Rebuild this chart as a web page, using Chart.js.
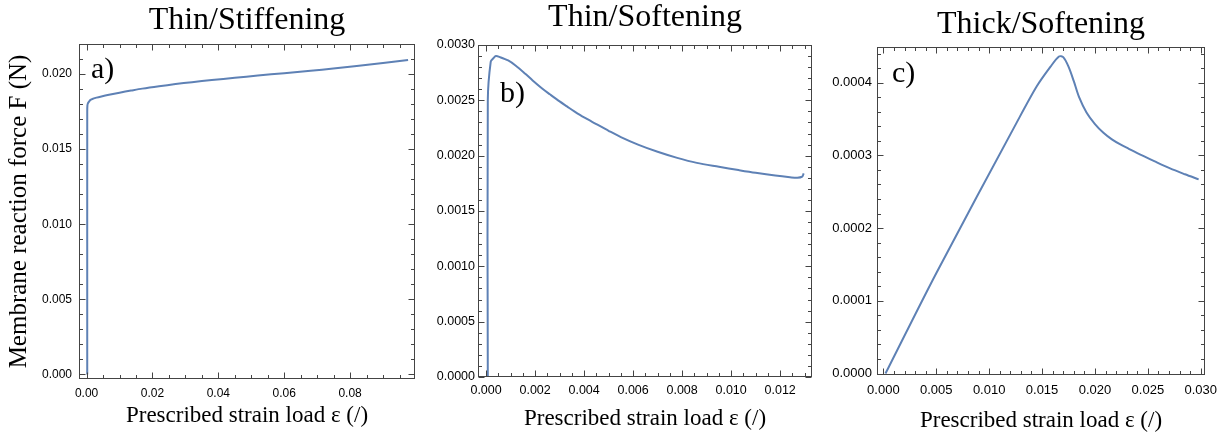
<!DOCTYPE html>
<html>
<head>
<meta charset="utf-8">
<script src="https://cdn.jsdelivr.net/npm/chart.js@4.4.1/dist/chart.umd.min.js"></script>
<style>
  body { margin: 0; background: #fff; width: 1228px; height: 434px; overflow: hidden; position: relative; }
  canvas { position: absolute; top: 0; }
</style>
</head>
<body>
<canvas id="chartA" width="420" height="434" style="left:0px"></canvas>
<canvas id="chartB" width="400" height="434" style="left:420px"></canvas>
<canvas id="chartC" width="408" height="434" style="left:820px"></canvas>
<script>
// --- DATA ---
// a) thin / stiffening
const strainA = [0.0002, 0.0002, 0.00025, 0.0004, 0.0008, 0.0012, 0.002, 0.003, 0.0045, 0.0068, 0.010, 0.0135, 0.0169, 0.022, 0.027, 0.032, 0.038, 0.045, 0.052, 0.060, 0.068, 0.0749, 0.082, 0.090, 0.0976];
const forceA = [0, 0.0175, 0.0179, 0.01805, 0.01818, 0.01828, 0.01836, 0.01843, 0.01851, 0.01862, 0.01876, 0.0189, 0.01903, 0.01919, 0.01933, 0.01946, 0.0196, 0.01975, 0.0199, 0.02006, 0.02022, 0.02037, 0.02054, 0.02074, 0.02094];
const xTicksA = [0, 0.02, 0.04, 0.06, 0.08];
const yTicksA = [0, 0.005, 0.010, 0.015, 0.020];

// b) thin / softening
const strainB = [0.00007, 0.00007, 0.00019, 0.0003, 0.0004, 0.00057, 0.0009, 0.0012, 0.0016, 0.0019, 0.0023, 0.0026, 0.003, 0.0033, 0.0036, 0.004, 0.0045, 0.005, 0.0055, 0.0062, 0.007, 0.0078, 0.0086, 0.0095, 0.0103, 0.011, 0.0118, 0.0124, 0.0127, 0.0129, 0.01296];
const forceB = [0, 0.0025, 0.00285, 0.00288, 0.0029, 0.00289, 0.00286, 0.002815, 0.00274, 0.00268, 0.002605, 0.002555, 0.00249, 0.002445, 0.0024, 0.002345, 0.002285, 0.002225, 0.002168, 0.0021, 0.002035, 0.00198, 0.001935, 0.0019, 0.00187, 0.001845, 0.00182, 0.001805, 0.0018, 0.00181, 0.00184];
const xTicksB = [0, 0.002, 0.004, 0.006, 0.008, 0.010, 0.012];
const yTicksB = [0, 0.0005, 0.0010, 0.0015, 0.0020, 0.0025, 0.0030];

// c) thick / softening
const strainC = [0.0002, 0.005, 0.0126, 0.0145, 0.0158, 0.0166, 0.0170, 0.0175, 0.0180, 0.0185, 0.0192, 0.0200, 0.0208, 0.0216, 0.0224, 0.0232, 0.0240, 0.0256, 0.0271, 0.0285, 0.0298];
const forceC = [0, 0.000138, 0.000345, 0.000395, 0.000422, 0.000436, 0.000435, 0.000422, 0.000402, 0.00038, 0.000359, 0.000343, 0.000331, 0.000322, 0.000315, 0.000309, 0.000303, 0.000292, 0.000282, 0.000274, 0.000267];
const xTicksC = [0, 0.005, 0.010, 0.015, 0.020, 0.025, 0.030];
const yTicksC = [0, 0.0001, 0.0002, 0.0003, 0.0004];

const LINE = '#5e81b5';
const FRAME = '#444444';
const serif = '"Liberation Serif", "DejaVu Serif", serif';
const sans = '"Liberation Sans", Arial, sans-serif';
const xTitle = 'Prescribed strain load ε (/)';

// frame with inward major/minor ticks on all four sides + panel letter
const frameTicks = {
    id: 'frameTicks',
    afterDraw(chart, args, o) {
        const { ctx, chartArea: a, scales: { x, y } } = chart;
        ctx.save();
        ctx.strokeStyle = o.color;
        ctx.lineWidth = 1;
        const L = Math.round(a.left) + 0.5, R = Math.round(a.right) - 0.5;
        const T = Math.round(a.top) + 0.5, B = Math.round(a.bottom) - 0.5;
        ctx.strokeRect(L, T, R - L, B - T);
        ctx.beginPath();
        const marks = (scale, minor, major, draw) => {
            const n = Math.round(major / minor);
            const k0 = Math.ceil(scale.min / minor - 1e-6), k1 = Math.floor(scale.max / minor + 1e-6);
            for (let k = k0; k <= k1; k++) {
                const p = Math.round(scale.getPixelForValue(k * minor)) + 0.5;
                draw(p, k % n === 0 ? 6 : 3.5);
            }
        };
        marks(x, o.xMinor, o.xMajor, (p, len) => {
            ctx.moveTo(p, B); ctx.lineTo(p, B - len);
            ctx.moveTo(p, T); ctx.lineTo(p, T + len);
        });
        marks(y, o.yMinor, o.yMajor, (p, len) => {
            ctx.moveTo(L, p); ctx.lineTo(L + len, p);
            ctx.moveTo(R, p); ctx.lineTo(R - len, p);
        });
        ctx.stroke();
        ctx.font = '30px ' + serif;
        ctx.fillStyle = '#000';
        ctx.textBaseline = 'alphabetic';
        ctx.fillText(o.label, a.left + o.labelX, a.top + o.labelY);
        ctx.restore();
    }
};

function makePanel(id, xs, ys, xTicks, yTicks, p) {
    const ctx = document.getElementById(id).getContext('2d');
    return new Chart(ctx, {
        type: 'line',
        data: {
            datasets: [{
                data: xs.map((v, i) => ({ x: v, y: ys[i] })),
                borderColor: LINE,
                borderWidth: 2,
                pointRadius: 0,
                fill: false,
                tension: 0.3
            }]
        },
        options: {
            responsive: false,
            animation: false,
            layout: { padding: { left: 0, right: p.padRight, top: 0, bottom: 0 } },
            plugins: {
                legend: { display: false },
                tooltip: { enabled: false },
                title: {
                    display: true,
                    text: p.title,
                    fullSize: false,
                    color: '#000',
                    font: { family: serif, size: 32, weight: 'normal', lineHeight: 1 },
                    padding: { top: p.titleTop, bottom: p.titleBottom }
                },
                frameTicks: {
                    color: FRAME,
                    xMinor: p.xMinor, xMajor: xTicks[1] - xTicks[0],
                    yMinor: p.yMinor, yMajor: yTicks[1] - yTicks[0],
                    label: p.label, labelX: p.labelX, labelY: p.labelY
                }
            },
            scales: {
                x: {
                    type: 'linear',
                    min: p.xMin, max: p.xMax,
                    afterBuildTicks: s => { s.ticks = xTicks.map(v => ({ value: v })); },
                    afterFit: s => { s.height = p.xHeight; },
                    grid: { display: false, drawTicks: false },
                    border: { display: false },
                    ticks: {
                        color: '#000', font: { family: sans, size: p.tickSize },
                        padding: p.xTickPad, maxRotation: 0, autoSkip: false,
                        callback: v => v.toFixed(p.xDec)
                    },
                    title: {
                        display: true, text: xTitle, color: '#000',
                        font: { family: serif, size: 23, lineHeight: 1 },
                        padding: { top: 0, bottom: p.xTitlePad }
                    }
                },
                y: {
                    type: 'linear',
                    min: p.yMin, max: p.yMax,
                    afterBuildTicks: s => { s.ticks = yTicks.map(v => ({ value: v })); },
                    afterFit: s => { s.width = p.yWidth; },
                    grid: { display: false, drawTicks: false },
                    border: { display: false },
                    ticks: {
                        color: '#000', font: { family: sans, size: p.tickSize },
                        padding: p.yTickPad, autoSkip: false,
                        callback: v => v.toFixed(p.yDec)
                    },
                    title: {
                        display: !!p.yTitle, text: p.yTitle || '', color: '#000',
                        font: { family: serif, size: 25, lineHeight: 1 },
                        padding: { top: 7, bottom: 0 }
                    }
                }
            }
        },
        plugins: [frameTicks]
    });
}

makePanel('chartA', strainA, forceA, xTicksA, yTicksA, {
    title: 'Thin/Stiffening', titleTop: 5, titleBottom: 7,
    yTitle: 'Membrane reaction force F (N)',
    xMin: -0.0023, xMax: 0.0997, yMin: -0.0003, yMax: 0.022,
    xDec: 2, yDec: 3, xMinor: 0.005, yMinor: 0.001,
    yWidth: 79, xHeight: 55, padRight: 5,
    tickSize: 12, xTickPad: 7, yTickPad: 7, xTitlePad: 7,
    label: 'a)', labelX: 12, labelY: 34
});

makePanel('chartB', strainB, forceB, xTicksB, yTicksB, {
    title: 'Thin/Softening', titleTop: 2, titleBottom: 11,
    xMin: -0.00033, xMax: 0.0133, yMin: 0, yMax: 0.003,
    xDec: 3, yDec: 4, xMinor: 0.0005, yMinor: 0.0001,
    yWidth: 58, xHeight: 57, padRight: 8,
    tickSize: 12.5, xTickPad: 6, yTickPad: 3, xTitlePad: 4,
    label: 'b)', labelX: 22, labelY: 57
});

makePanel('chartC', strainC, forceC, xTicksC, yTicksC, {
    title: 'Thick/Softening', titleTop: 9, titleBottom: 6,
    xMin: -0.0006, xMax: 0.0304, yMin: -0.000002, yMax: 0.000449,
    xDec: 3, yDec: 4, xMinor: 0.001, yMinor: 0.00002,
    yWidth: 57, xHeight: 59, padRight: 23,
    tickSize: 13, xTickPad: 8, yTickPad: 5, xTitlePad: 2,
    label: 'c)', labelX: 15, labelY: 35
});
</script>
</body>
</html>
